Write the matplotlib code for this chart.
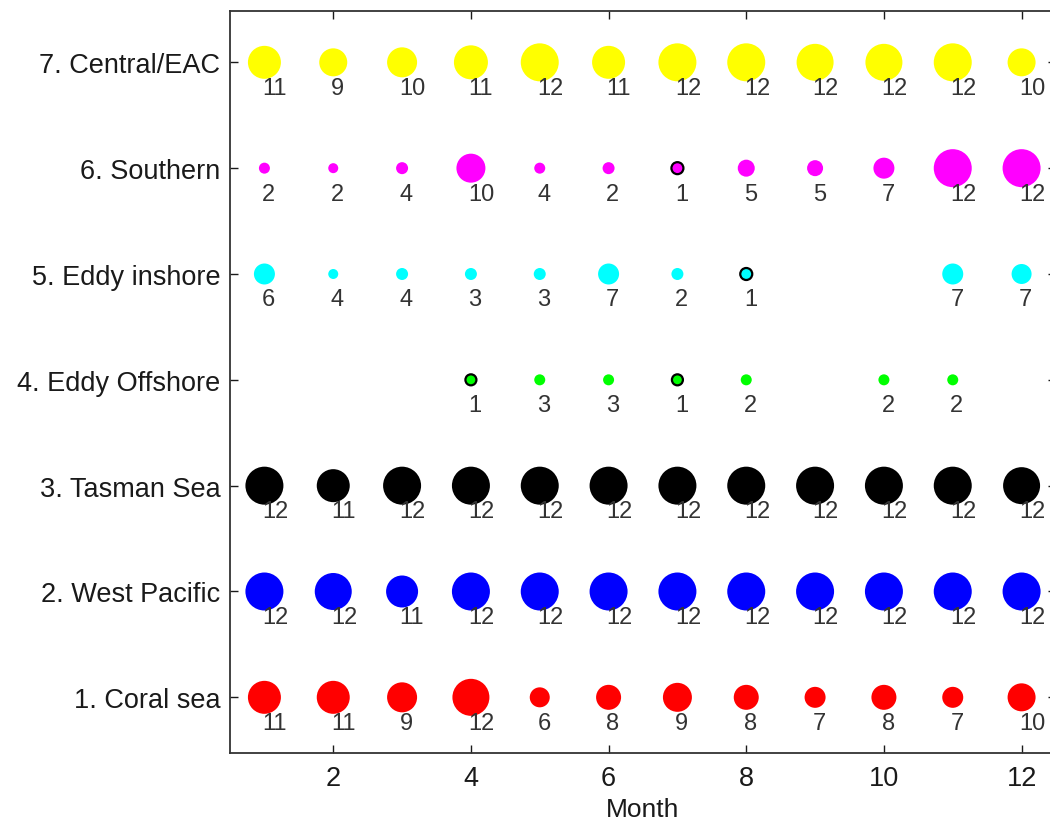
import numpy as np
import matplotlib
matplotlib.use("Agg")
import matplotlib.pyplot as plt

nan = np.nan

# Data
months = np.arange(1, 13)
regions = ["1. Coral sea", "2. West Pacific", "3. Tasman Sea", "4. Eddy Offshore",
           "5. Eddy inshore", "6. Southern", "7. Central/EAC"]
colors = ["#ff0000", "#0000ff", "#000000", "#00ff00", "#00ffff", "#ff00ff", "#ffff00"]

# count labels printed next to each bubble
coral_n = [11, 11, 9, 12, 6, 8, 9, 8, 7, 8, 7, 10]
westpac_n = [12, 12, 11, 12, 12, 12, 12, 12, 12, 12, 12, 12]
tasman_n = [12, 11, 12, 12, 12, 12, 12, 12, 12, 12, 12, 12]
eddyoff_n = [nan, nan, nan, 1, 3, 3, 1, 2, nan, 2, 2, nan]
eddyin_n = [6, 4, 4, 3, 3, 7, 2, 1, nan, nan, 7, 7]
southern_n = [2, 2, 4, 10, 4, 2, 1, 5, 5, 7, 12, 12]
central_n = [11, 9, 10, 11, 12, 11, 12, 12, 12, 12, 12, 10]

# bubble diameters (pixels) as measured on the reference
coral_d = [33, 33, 30, 37, 20, 25, 29, 25, 21, 25, 21, 28]
westpac_d = [38, 37, 32, 38, 38, 38, 38, 38, 38, 38, 38, 38]
tasman_d = [38, 33, 38, 38, 38, 38, 38, 38, 38, 38, 38, 37]
eddyoff_d = [nan, nan, nan, 11, 11, 11, 11, 11, nan, 11, 11, nan]
eddyin_d = [21, 10, 12, 12, 12, 21, 12, 12, nan, nan, 21, 20]
southern_d = [11, 10, 12, 29, 11, 12, 12, 17, 16, 21, 38, 38]
central_d = [33, 28, 30, 34, 38, 33, 38, 38, 37, 37, 38, 28]

counts = [coral_n, westpac_n, tasman_n, eddyoff_n, eddyin_n, southern_n, central_n]
diams = [coral_d, westpac_d, tasman_d, eddyoff_d, eddyin_d, southern_d, central_d]

plt.rcParams['font.family'] = ['Liberation Sans', 'DejaVu Sans']

fig = plt.figure(figsize=(10.5, 8.28), dpi=100)
ax = fig.add_axes([230 / 1050, 1 - 754 / 828, (1056 - 230) / 1050, (754 - 12) / 828])

px = 72 / 100  # points per pixel
for i, (n, d, c) in enumerate(zip(counts, diams, colors)):
    n = np.array(n, dtype=float)
    d = np.array(d, dtype=float)
    ok = ~np.isnan(n)
    y = np.full(12, i + 1.0)
    edge = ["black" if v == 1 else "none" for v in n[ok]]
    ax.scatter(months[ok], y[ok], s=(d[ok] * px) ** 2, c=c, edgecolors=edge,
               linewidths=1.6, zorder=2)
    for m, v in zip(months[ok], n[ok]):
        ax.text(m - 0.035, i + 1 - 0.24, f"{int(v)}", ha="left", va="center",
                fontsize=17, color="#333333", zorder=3)

ax.set_xlim(0.5, 12.5)
ax.set_ylim(0.474, 7.485)
ax.set_xticks([2, 4, 6, 8, 10, 12])
ax.set_yticks(range(1, 8))
ax.set_yticklabels(regions)
ax.tick_params(direction="in", top=True, right=True, length=6, width=1,
               labelsize=19.5, colors="#1a1a1a")
ax.tick_params(axis="y", pad=7)
ax.tick_params(axis="x", pad=9)
for s in ax.spines.values():
    s.set_linewidth(1.3)
    s.set_color("#333333")
ax.set_xlabel("Month", fontsize=19, labelpad=4, color="#1a1a1a")

fig.savefig("out.png", dpi=100)
